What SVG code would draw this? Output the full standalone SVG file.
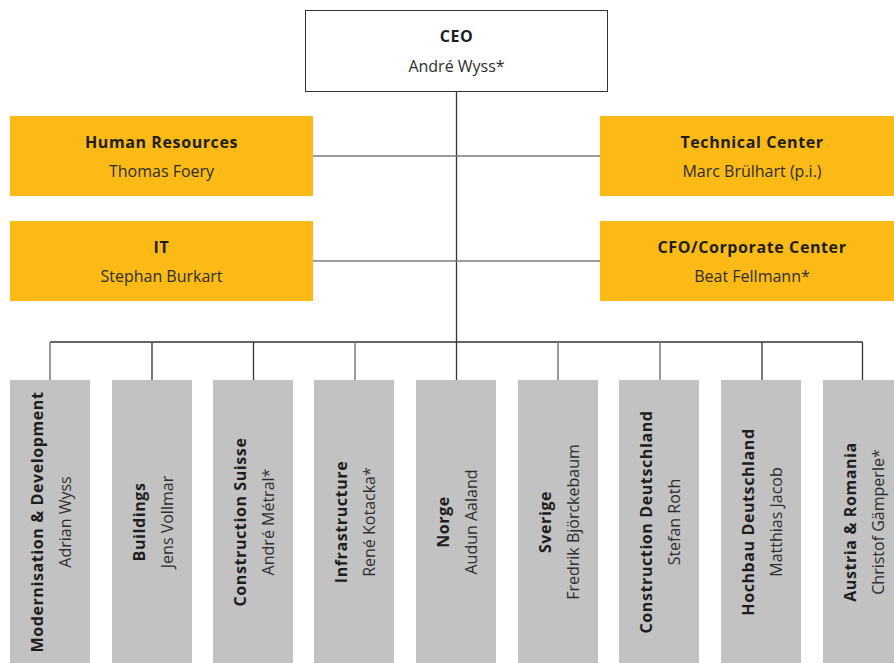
<svg xmlns="http://www.w3.org/2000/svg" width="894" height="663" viewBox="0 0 894 663">
<style>
text{font-family:"Open Sans","Noto Sans","DejaVu Sans",sans-serif;font-size:16px;text-anchor:middle}
.t{font-weight:bold;fill:#1e1e1e;letter-spacing:0.6px}
.n{fill:#2e2e2e}
.y{fill:#FBBA16}
.g{fill:#C2C2C2}
.c{stroke:#333;stroke-width:1.3;fill:none}
.s{stroke:#7a7a7a;stroke-width:1.5;fill:none}
</style>
<rect width="894" height="663" fill="#fff"/>
<g id="connectors">
<line class="c" x1="456.5" y1="91" x2="456.5" y2="380"/>
<line class="s" x1="313" y1="156" x2="600" y2="156"/>
<line class="s" x1="313" y1="261" x2="600" y2="261"/>
<line class="c" x1="50" y1="342" x2="862.5" y2="342"/>
<line class="s" x1="50" y1="342" x2="50" y2="380"/>
<line class="c" x1="152" y1="342" x2="152" y2="380"/>
<line class="c" x1="253.5" y1="342" x2="253.5" y2="380"/>
<line class="s" x1="355" y1="342" x2="355" y2="380"/>
<line class="s" x1="558" y1="342" x2="558" y2="380"/>
<line class="s" x1="660" y1="342" x2="660" y2="380"/>
<line class="c" x1="762" y1="342" x2="762" y2="380"/>
<line class="c" x1="862.5" y1="342" x2="862.5" y2="380"/>
</g>
<g id="ceo">
<rect x="305.5" y="10.5" width="302" height="81" fill="#fff" stroke="#333" stroke-width="1"/>
<text class="t" x="456.5" y="42">CEO</text>
<text class="n" x="456.5" y="72">André Wyss*</text>
</g>
<g id="hr">
<rect class="y" x="10" y="116" width="303" height="80"/>
<text class="t" x="161.5" y="148">Human Resources</text>
<text class="n" x="161.5" y="177">Thomas Foery</text>
</g>
<g id="it">
<rect class="y" x="10" y="221" width="303" height="80"/>
<text class="t" x="161.5" y="253">IT</text>
<text class="n" x="161.5" y="282">Stephan Burkart</text>
</g>
<g id="tc">
<rect class="y" x="600" y="116" width="294" height="80"/>
<text class="t" x="752" y="148">Technical Center</text>
<text class="n" x="752" y="177">Marc Brülhart (p.i.)</text>
</g>
<g id="cfo">
<rect class="y" x="600" y="221" width="294" height="80"/>
<text class="t" x="752" y="253">CFO/Corporate Center</text>
<text class="n" x="752" y="282">Beat Fellmann*</text>
</g>
<g id="d1">
<rect class="g" x="10" y="380" width="80" height="283"/>
<text class="t" transform="translate(43,522) rotate(-90)">Modernisation &amp; Development</text>
<text class="n" transform="translate(71,522) rotate(-90)">Adrian Wyss</text>
</g>
<g id="d2">
<rect class="g" x="112" y="380" width="80" height="283"/>
<text class="t" transform="translate(145,522) rotate(-90)">Buildings</text>
<text class="n" transform="translate(173,522) rotate(-90)">Jens Vollmar</text>
</g>
<g id="d3">
<rect class="g" x="213" y="380" width="80" height="283"/>
<text class="t" transform="translate(246,522) rotate(-90)">Construction Suisse</text>
<text class="n" transform="translate(274,522) rotate(-90)">André Métral*</text>
</g>
<g id="d4">
<rect class="g" x="314" y="380" width="80" height="283"/>
<text class="t" transform="translate(347,522) rotate(-90)">Infrastructure</text>
<text class="n" transform="translate(375,522) rotate(-90)">René Kotacka*</text>
</g>
<g id="d5">
<rect class="g" x="416" y="380" width="80" height="283"/>
<text class="t" transform="translate(449,522) rotate(-90)">Norge</text>
<text class="n" transform="translate(477,522) rotate(-90)">Audun Aaland</text>
</g>
<g id="d6">
<rect class="g" x="518" y="380" width="80" height="283"/>
<text class="t" transform="translate(551,522) rotate(-90)">Sverige</text>
<text class="n" transform="translate(579,522) rotate(-90)">Fredrik Björckebaum</text>
</g>
<g id="d7">
<rect class="g" x="619" y="380" width="80" height="283"/>
<text class="t" transform="translate(652,522) rotate(-90)">Construction Deutschland</text>
<text class="n" transform="translate(680,522) rotate(-90)">Stefan Roth</text>
</g>
<g id="d8">
<rect class="g" x="721" y="380" width="80" height="283"/>
<text class="t" transform="translate(754,522) rotate(-90)">Hochbau Deutschland</text>
<text class="n" transform="translate(782,522) rotate(-90)">Matthias Jacob</text>
</g>
<g id="d9">
<rect class="g" x="823" y="380" width="80" height="283"/>
<text class="t" transform="translate(856,522) rotate(-90)">Austria &amp; Romania</text>
<text class="n" transform="translate(884,522) rotate(-90)">Christof Gämperle*</text>
</g>
</svg>
